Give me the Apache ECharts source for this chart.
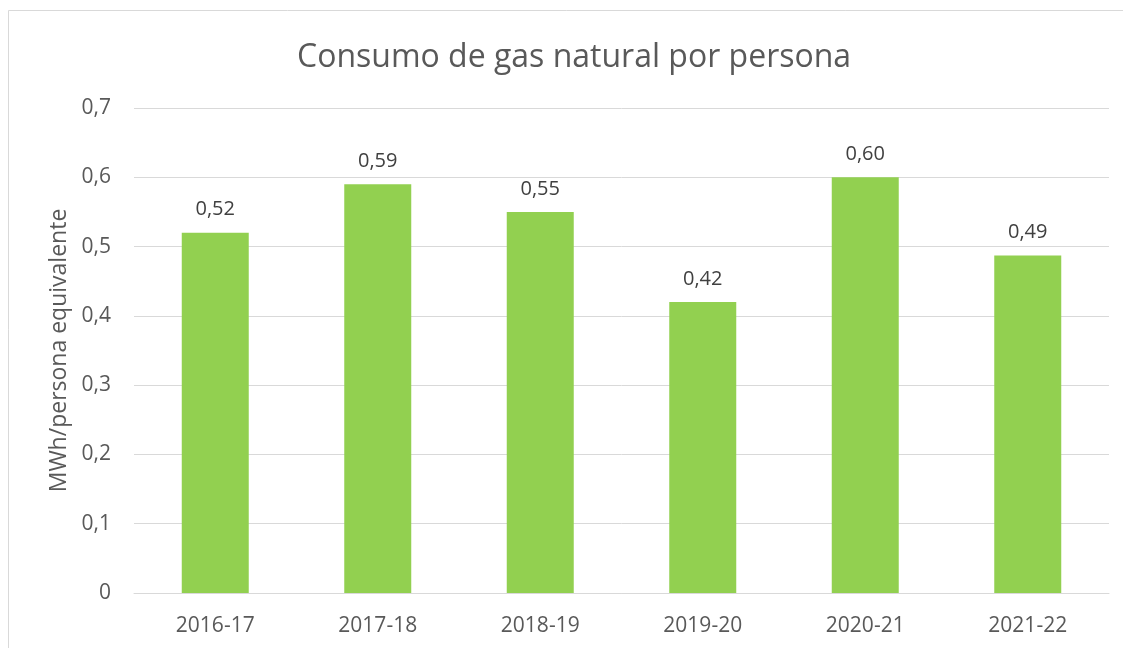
<!DOCTYPE html>
<html>
<head>
<meta charset="utf-8">
<script src="https://cdn.jsdelivr.net/npm/echarts@6/dist/echarts.min.js"></script>
<style>
html,body{margin:0;padding:0;background:#fff;}
#chart{width:1123px;height:648px;}
</style>
</head>
<body>
<div id="chart"></div>
<script>
const categories = ['2016-17','2017-18','2018-19','2019-20','2020-21','2021-22'];
const values = [0.52, 0.59, 0.55, 0.42, 0.60, 0.487];
const yTicks = [0, 0.1, 0.2, 0.3, 0.4, 0.5, 0.6, 0.7];
const titleText = 'Consumo de gas natural por persona';
const yAxisName = 'MWh/persona equivalente';

const FONT = '"Open Sans", sans-serif';
const fmtComma = (v, d) => (d === undefined ? String(v) : v.toFixed(d)).replace('.', ',');

const chart = echarts.init(document.getElementById('chart'), null, {renderer: 'canvas'});
chart.setOption({
  animation: false,
  backgroundColor: '#ffffff',
  title: {
    text: titleText,
    left: 292,
    top: 37,
    textStyle: {fontFamily: FONT, fontSize: 32, fontWeight: 'normal', color: '#595959'}
  },
  graphic: [{
    type: 'rect',
    shape: {x: 8.5, y: 10.5, width: 2000, height: 2000},
    style: {fill: 'none', stroke: '#d9d9d9', lineWidth: 1},
    silent: true, z: -1
  }],
  grid: {left: 134, right: 14, top: 108, bottom: 55, containLabel: false},
  xAxis: {
    type: 'category',
    data: categories,
    axisLine: {show: true, lineStyle: {color: '#d9d9d9', width: 1}},
    axisTick: {show: false},
    axisLabel: {fontFamily: FONT, fontSize: 21, color: '#595959', margin: 23}
  },
  yAxis: {
    type: 'value',
    min: 0,
    max: yTicks[yTicks.length - 1],
    interval: 0.1,
    name: yAxisName,
    nameLocation: 'middle',
    nameGap: 63,
    nameTextStyle: {fontFamily: FONT, fontSize: 23, color: '#595959'},
    axisLine: {show: false},
    axisTick: {show: false},
    splitLine: {lineStyle: {color: '#d9d9d9', width: 1}},
    axisLabel: {
      fontFamily: FONT, fontSize: 21, color: '#595959', margin: 23,
      formatter: v => fmtComma(Math.round(v * 10) / 10)
    }
  },
  series: [{
    type: 'bar',
    data: values,
    barWidth: 67,
    itemStyle: {color: '#92d050'},
    label: {
      show: true,
      position: 'top',
      distance: 13,
      fontFamily: FONT,
      fontSize: 20,
      color: '#404040',
      formatter: p => fmtComma(p.value, 2)
    }
  }]
});
</script>
</body>
</html>
